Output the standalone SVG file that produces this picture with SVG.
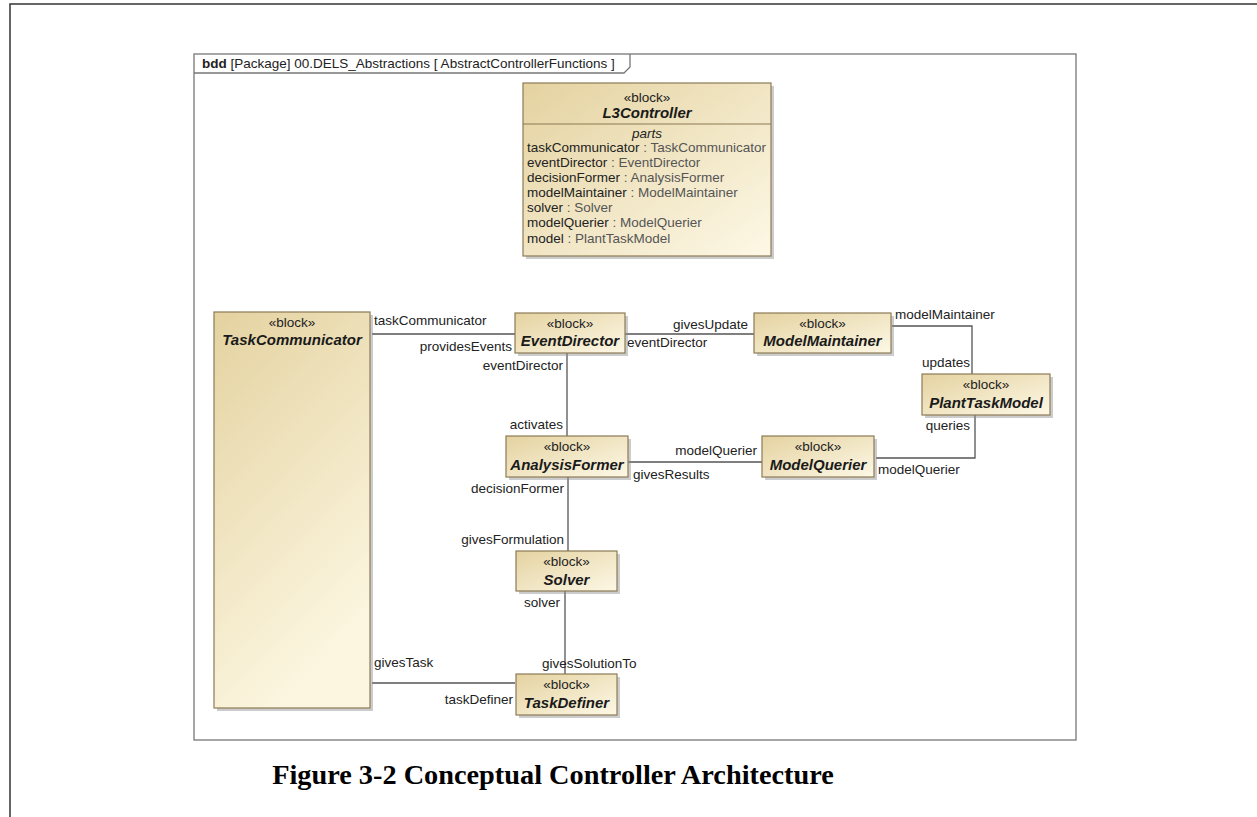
<svg xmlns="http://www.w3.org/2000/svg" width="1257" height="817" viewBox="0 0 1257 817">
<defs>
<linearGradient id="bg" x1="0" y1="0" x2="1" y2="1">
<stop offset="0" stop-color="#e4d2a0"/>
<stop offset="1" stop-color="#fdf8e6"/>
</linearGradient>
<linearGradient id="bgTall" x1="0" y1="0" x2="0.4" y2="1">
<stop offset="0" stop-color="#e4d2a0"/>
<stop offset="1" stop-color="#fcf6e0"/>
</linearGradient>
</defs>
<style>
.blk{fill:url(#bg);stroke:#8c7b55;stroke-width:1.2}
.tall{fill:url(#bgTall)}
.shd{fill:#8f8f8f;opacity:0.45}
.st{font-family:"Liberation Sans",Arial,sans-serif;font-size:13.5px;fill:#222;text-anchor:middle}
.nm{font-family:"Liberation Sans",Arial,sans-serif;font-size:15px;font-weight:bold;font-style:italic;fill:#1a1a1a;text-anchor:middle}
.lb{font-family:"Liberation Sans",Arial,sans-serif;font-size:13.5px;fill:#222}
.end{text-anchor:end}
.pt{font-family:"Liberation Sans",Arial,sans-serif;font-size:13.5px;fill:#222}
.ty{fill:#555}
.con{fill:none;stroke:#555;stroke-width:1.3}
</style>
<rect width="1257" height="817" fill="#fff"/>
<path d="M10,817 V4 H1257" fill="none" stroke="#333" stroke-width="1.5"/>
<g id="frame">
<rect x="194" y="54" width="882" height="686" fill="#fff" stroke="#777" stroke-width="1.3"/>
<path d="M194,73 H624 L630,67 V54" fill="none" stroke="#777" stroke-width="1.3"/>
<text x="202" y="68" class="lb"><tspan font-weight="bold">bdd</tspan> [Package] 00.DELS_Abstractions [ AbstractControllerFunctions ]</text>
</g>
<g id="connectors">
<path class="con" d="M372,334 H515"/>
<path class="con" d="M625,334 H754"/>
<path class="con" d="M567,353 V436"/>
<path class="con" d="M892,326 H972 V374"/>
<path class="con" d="M975,415 V458 H876"/>
<path class="con" d="M628,462 H762"/>
<path class="con" d="M568,477 V551"/>
<path class="con" d="M565,591 V674"/>
<path class="con" d="M372,683 H515"/>
<text class="lb" x="374" y="325">taskCommunicator</text>
<text class="lb end" x="512" y="351">providesEvents</text>
<text class="lb end" x="748" y="329">givesUpdate</text>
<text class="lb" x="627" y="347">eventDirector</text>
<text class="lb end" x="563" y="370">eventDirector</text>
<text class="lb end" x="563" y="429">activates</text>
<text class="lb" x="895" y="319">modelMaintainer</text>
<text class="lb end" x="970" y="367">updates</text>
<text class="lb end" x="970" y="430">queries</text>
<text class="lb" x="878" y="474">modelQuerier</text>
<text class="lb end" x="757" y="455">modelQuerier</text>
<text class="lb" x="633" y="479">givesResults</text>
<text class="lb end" x="564" y="493">decisionFormer</text>
<text class="lb end" x="564" y="544">givesFormulation</text>
<text class="lb end" x="560" y="607">solver</text>
<text class="lb" x="542" y="668">givesSolutionTo</text>
<text class="lb" x="374" y="667">givesTask</text>
<text class="lb end" x="513" y="704">taskDefiner</text>
</g>
<g id="L3Controller">
<rect class="shd" x="526" y="86" width="248" height="173"/>
<rect class="blk" x="523" y="83" width="248" height="173"/>
<line x1="523" y1="124" x2="771" y2="124" stroke="#8c7b55" stroke-width="1.2"/>
<text class="st" x="647" y="102">«block»</text>
<text class="nm" x="647" y="118">L3Controller</text>
<text class="st" x="647" y="138" font-size="11" font-style="italic" fill="#999">parts</text>
<text class="pt" x="527" y="152">taskCommunicator<tspan class="ty"> : TaskCommunicator</tspan></text>
<text class="pt" x="527" y="167">eventDirector<tspan class="ty"> : EventDirector</tspan></text>
<text class="pt" x="527" y="182">decisionFormer<tspan class="ty"> : AnalysisFormer</tspan></text>
<text class="pt" x="527" y="197">modelMaintainer<tspan class="ty"> : ModelMaintainer</tspan></text>
<text class="pt" x="527" y="212">solver<tspan class="ty"> : Solver</tspan></text>
<text class="pt" x="527" y="227">modelQuerier<tspan class="ty"> : ModelQuerier</tspan></text>
<text class="pt" x="527" y="243">model<tspan class="ty"> : PlantTaskModel</tspan></text>
</g>
<g id="TaskCommunicator">
<rect class="shd" x="217" y="315" width="156" height="396"/>
<rect class="blk tall" x="214" y="312" width="156" height="396"/>
<text class="st" x="292" y="327">«block»</text>
<text class="nm" x="292" y="345">TaskCommunicator</text>
</g>
<g id="EventDirector">
<rect class="shd" x="518" y="316" width="110" height="40"/>
<rect class="blk" x="515" y="313" width="110" height="40"/>
<text class="st" x="570" y="328">«block»</text>
<text class="nm" x="570" y="346">EventDirector</text>
</g>
<g id="ModelMaintainer">
<rect class="shd" x="757" y="316" width="137" height="40"/>
<rect class="blk" x="754" y="313" width="137" height="40"/>
<text class="st" x="822.5" y="328">«block»</text>
<text class="nm" x="822.5" y="346">ModelMaintainer</text>
</g>
<g id="PlantTaskModel">
<rect class="shd" x="925" y="377" width="128" height="41"/>
<rect class="blk" x="922" y="374" width="128" height="41"/>
<text class="st" x="986" y="389">«block»</text>
<text class="nm" x="986" y="408">PlantTaskModel</text>
</g>
<g id="AnalysisFormer">
<rect class="shd" x="509" y="439" width="122" height="41"/>
<rect class="blk" x="506" y="436" width="122" height="41"/>
<text class="st" x="567" y="451">«block»</text>
<text class="nm" x="567" y="470">AnalysisFormer</text>
</g>
<g id="ModelQuerier">
<rect class="shd" x="765" y="439" width="112" height="41"/>
<rect class="blk" x="762" y="436" width="112" height="41"/>
<text class="st" x="818" y="451">«block»</text>
<text class="nm" x="818" y="470">ModelQuerier</text>
</g>
<g id="Solver">
<rect class="shd" x="519" y="554" width="101" height="40"/>
<rect class="blk" x="516" y="551" width="101" height="40"/>
<text class="st" x="566.5" y="566">«block»</text>
<text class="nm" x="566.5" y="585">Solver</text>
</g>
<g id="TaskDefiner">
<rect class="shd" x="519" y="677" width="101" height="41"/>
<rect class="blk" x="516" y="674" width="101" height="41"/>
<text class="st" x="566.5" y="689">«block»</text>
<text class="nm" x="566.5" y="708">TaskDefiner</text>
</g>
<text x="553" y="784" font-family="'Liberation Serif','Times New Roman',serif" font-size="28.3" font-weight="bold" text-anchor="middle" fill="#000">Figure 3-2 Conceptual Controller Architecture</text>
</svg>
